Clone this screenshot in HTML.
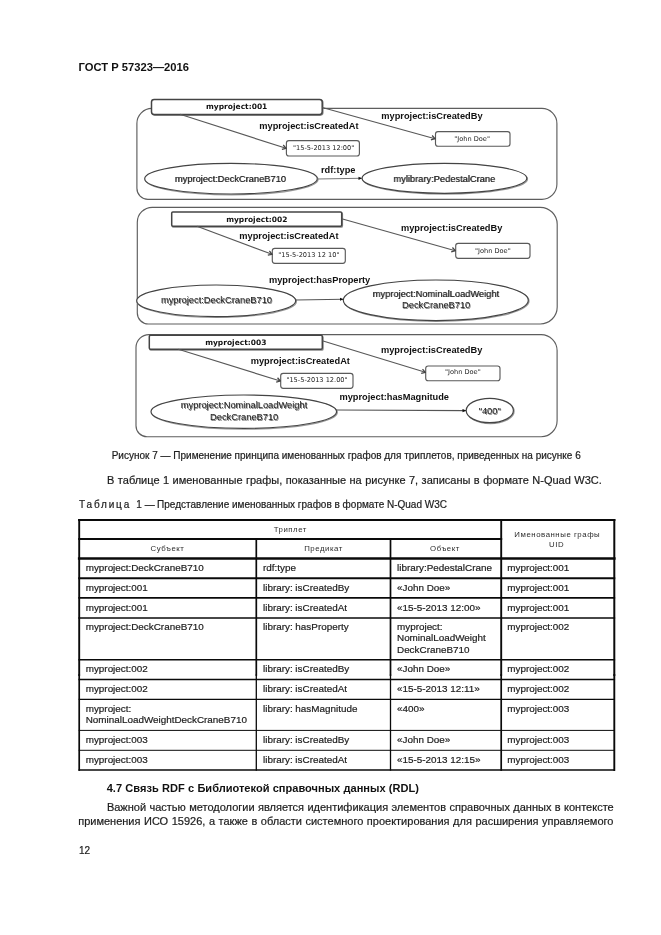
<!DOCTYPE html>
<html lang="ru">
<head>
<meta charset="utf-8">
<title>ГОСТ Р 57323—2016</title>
<style>
html,body{margin:0;padding:0;background:#fff;}
body{width:661px;height:935px;position:relative;overflow:hidden;will-change:transform;font-family:"Liberation Sans",sans-serif;color:#1c1c1c;}
.t{position:absolute;white-space:nowrap;line-height:12px;-webkit-text-stroke:0.2px #1c1c1c;}
#hdr,#h47,.h{-webkit-text-stroke:0;}
.c{font-size:9.9px;color:#1c1c1c;}
.h{font-size:7.8px;letter-spacing:0.55px;text-align:center;color:#2c2c2c;}
#dia,#grid{position:absolute;left:0;top:0;}
</style>
</head>
<body>
<div class="t" id="hdr" style="left:78.6px;top:61px;font-size:11.2px;color:#111;font-weight:bold;">ГОСТ Р 57323—2016</div>

<svg id="dia" width="661" height="445" viewBox="0 0 661 445">
<defs>
<marker id="ah" markerUnits="userSpaceOnUse" viewBox="0 0 6 6" refX="5.2" refY="3" markerWidth="6" markerHeight="6" orient="auto"><path d="M1.6,0.7 L5.2,3 L1.6,5.3" fill="none" stroke="#444" stroke-width="1.25"/></marker>
<marker id="af" markerUnits="userSpaceOnUse" viewBox="0 0 4 4" refX="3.4" refY="2" markerWidth="4" markerHeight="4" orient="auto"><path d="M0.1,0.35 L3.7,2 L0.1,3.65 Z" fill="#111"/></marker>
</defs>
<g fill="none" stroke="#444" stroke-width="1.2">
<!-- graph 1 -->
<path stroke="#5e5e5e" stroke-width="1.15" d="M151.9,108.4 H541.9 A15,15 0 0 1 556.9,123.4 V184.3 A15,15 0 0 1 541.9,199.3 H147.9 A11,11 0 0 1 136.9,188.3 V123.4 A15,15 0 0 1 151.9,108.4 Z"/>
<rect x="151.5" y="99.4" width="170.7" height="15" rx="2.6" ry="2.6" fill="none" stroke="#8a8a8a" stroke-width="1.4" transform="translate(0.7,0.8)"/>
<rect x="151.5" y="99.4" width="170.7" height="15" rx="2.6" ry="2.6" fill="#fff" stroke-width="1.5"/>
<rect x="286.4" y="140.6" width="73" height="15.4" rx="2.5" fill="#fff" stroke="#5a5a5a" stroke-width="1.15"/>
<rect x="435.5" y="131.6" width="74.5" height="14.6" rx="2.5" fill="#fff" stroke="#5a5a5a" stroke-width="1.15"/>
<line x1="180" y1="114.3" x2="286" y2="148.3" stroke="#585858" stroke-width="1.15" marker-end="url(#ah)"/>
<line x1="322.3" y1="107.5" x2="435" y2="138.7" stroke="#585858" stroke-width="1.15" marker-end="url(#ah)"/>
<ellipse cx="231" cy="178.7" rx="86.3" ry="15.3" fill="none" stroke="#9a9a9a" stroke-width="1.3" transform="translate(0.7,0.8)"/>
<ellipse cx="231" cy="178.7" rx="86.3" ry="15.3" fill="#fff"/>
<ellipse cx="444.45" cy="178.3" rx="82.35" ry="15" fill="none" stroke="#9a9a9a" stroke-width="1.3" transform="translate(0.7,0.8)"/>
<ellipse cx="444.45" cy="178.3" rx="82.35" ry="15" fill="#fff"/>
<line x1="317.3" y1="179" x2="361.8" y2="178.3" stroke="#777" stroke-width="1.1" marker-end="url(#af)"/>
<!-- graph 2 -->
<path stroke="#5e5e5e" stroke-width="1.15" d="M152.3,207.3 H540.2 A17,17 0 0 1 557.2,224.3 V307.0 A17,17 0 0 1 540.2,324.0 H148.3 A11,11 0 0 1 137.3,313.0 V222.3 A15,15 0 0 1 152.3,207.3 Z"/>
<rect x="171.7" y="211.9" width="170" height="14.4" rx="1.2" fill="none" stroke="#8a8a8a" stroke-width="1.4" transform="translate(0.7,0.8)"/>
<rect x="171.7" y="211.9" width="170" height="14.4" rx="1.2" fill="#fff" stroke-width="1.5"/>
<rect x="272.3" y="248.3" width="73" height="15" rx="2.5" fill="#fff" stroke="#5a5a5a" stroke-width="1.15"/>
<rect x="455.7" y="243.3" width="74.3" height="15" rx="2.5" fill="#fff" stroke="#5a5a5a" stroke-width="1.15"/>
<line x1="197" y1="226.3" x2="272" y2="254.3" stroke="#585858" stroke-width="1.15" marker-end="url(#ah)"/>
<line x1="341.7" y1="218.8" x2="455.3" y2="250.7" stroke="#585858" stroke-width="1.15" marker-end="url(#ah)"/>
<ellipse cx="216.2" cy="300.8" rx="79.5" ry="15.8" fill="none" stroke="#9a9a9a" stroke-width="1.3" transform="translate(0.7,0.8)"/>
<ellipse cx="216.2" cy="300.8" rx="79.5" ry="15.8" fill="#fff"/>
<ellipse cx="435.8" cy="300.3" rx="92.5" ry="20.3" fill="none" stroke="#9a9a9a" stroke-width="1.3" transform="translate(0.7,0.8)"/>
<ellipse cx="435.8" cy="300.3" rx="92.5" ry="20.3" fill="#fff"/>
<line x1="295.7" y1="300" x2="343.2" y2="299.2" stroke="#555" stroke-width="1.1" marker-end="url(#af)"/>
<!-- graph 3 -->
<path stroke="#5e5e5e" stroke-width="1.15" d="M149,334.6 H541.1 A16,16 0 0 1 557.1,350.6 V420.7 A16,16 0 0 1 541.1,436.7 H147 A11,11 0 0 1 136,425.7 V347.6 A13,13 0 0 1 149,334.6 Z"/>
<rect x="149.3" y="335.3" width="173" height="14" rx="1.2" fill="none" stroke="#8a8a8a" stroke-width="1.4" transform="translate(0.7,0.8)"/>
<rect x="149.3" y="335.3" width="173" height="14" rx="1.2" fill="#fff" stroke-width="1.5"/>
<rect x="280.7" y="373.3" width="72.3" height="15" rx="2.5" fill="#fff" stroke="#5a5a5a" stroke-width="1.15"/>
<rect x="425.7" y="366" width="74.3" height="14.7" rx="2.5" fill="#fff" stroke="#5a5a5a" stroke-width="1.15"/>
<line x1="178.3" y1="349.3" x2="280.3" y2="381" stroke="#585858" stroke-width="1.15" marker-end="url(#ah)"/>
<line x1="322.3" y1="340.7" x2="425.3" y2="372.3" stroke="#585858" stroke-width="1.15" marker-end="url(#ah)"/>
<ellipse cx="243.8" cy="411.7" rx="92.8" ry="16.7" fill="none" stroke="#9a9a9a" stroke-width="1.3" transform="translate(0.7,0.8)"/>
<ellipse cx="243.8" cy="411.7" rx="92.8" ry="16.7" fill="#fff"/>
<ellipse cx="489.8" cy="410.5" rx="23.6" ry="12.2" fill="none" stroke="#9a9a9a" stroke-width="1.3" transform="translate(0.7,0.8)"/>
<ellipse cx="489.8" cy="410.5" rx="23.6" ry="12.2" fill="#fff"/>
<line x1="336.7" y1="410" x2="465.8" y2="410.6" stroke="#555" stroke-width="1.1" marker-end="url(#af)"/>
</g>
<g font-family="'DejaVu Sans',sans-serif" font-weight="bold" font-size="7.5" fill="#111" text-anchor="middle">
<text x="236.7" y="109.3">myproject:001</text>
<text x="256.8" y="221.7">myproject:002</text>
<text x="235.8" y="345">myproject:003</text>
</g>
<g font-family="'DejaVu Sans',sans-serif" font-size="6.6" fill="#222">
<text x="293" y="150.3">"15-5-2013 12:00"</text>
<text x="454.3" y="140.6">"John Doe"</text>
<text x="278.3" y="256.7">"15-5-2013 12 10"</text>
<text x="475" y="252.7">"John Doe"</text>
<text x="286.4" y="382.3">"15-5-2013 12.00"</text>
<text x="445" y="374.3">"John Doe"</text>
</g>
<g font-family="'Liberation Sans',sans-serif" font-weight="bold" font-size="9.25" fill="#111">
<text x="259.3" y="128.7">myproject:isCreatedAt</text>
<text x="381.3" y="119.3">myproject:isCreatedBy</text>
<text x="321" y="173.3">rdf:type</text>
<text x="239.3" y="239">myproject:isCreatedAt</text>
<text x="401" y="230.7">myproject:isCreatedBy</text>
<text x="269" y="283.3">myproject:hasProperty</text>
<text x="250.7" y="364.3">myproject:isCreatedAt</text>
<text x="381" y="352.7">myproject:isCreatedBy</text>
<text x="339.5" y="400">myproject:hasMagnitude</text>
</g>
<g font-family="'Liberation Sans',sans-serif" font-size="9.3" fill="#222" text-anchor="middle" style="text-shadow:0.7px 0.7px 0.6px #777">
<text x="230.3" y="181.7">myproject:DeckCraneB710</text>
<text x="444.2" y="181.7">mylibrary:PedestalCrane</text>
<text x="216.5" y="303.3">myproject:DeckCraneB710</text>
<text x="435.8" y="296.7">myproject:NominalLoadWeight</text>
<text x="436.2" y="308">DeckCraneB710</text>
<text x="244" y="408.3">myproject:NominalLoadWeight</text>
<text x="244.2" y="420">DeckCraneB710</text>
<text x="489.7" y="414">"400"</text>
</g>
</svg>

<div class="t" id="cap" style="left:111.7px;top:450px;font-size:10px;">Рисунок 7 — Применение принципа именованных графов для триплетов, приведенных на рисунке 6</div>
<div class="t" id="p1" style="left:107.1px;top:474px;font-size:11px;word-spacing:0.37px;">В таблице 1 именованные графы, показанные на рисунке 7, записаны в формате N-Quad W3C.</div>
<div class="t" id="tc1" style="left:79.0px;top:499px;font-size:10px;letter-spacing:1.83px;">Таблица</div>
<div class="t" id="tc2" style="left:136.2px;top:499px;font-size:10px;">1</div>
<div class="t" id="tc3" style="left:144.7px;top:499px;font-size:10px;">—</div>
<div class="t" id="tc4" style="left:157.1px;top:499px;font-size:10px;">Представление именованных графов в формате N-Quad W3C</div>

<svg id="grid" width="661" height="935" viewBox="0 0 661 935"><g stroke="#0a0a0a" stroke-width="1.8" fill="none" stroke-linecap="square">
<line x1="79.2" y1="520" x2="614.3" y2="520" stroke-width="2.2"/>
<line x1="79.2" y1="539" x2="501.2" y2="539" stroke-width="2"/>
<line x1="79.2" y1="558.5" x2="614.3" y2="558.5" stroke-width="2.6"/>
<line x1="79.2" y1="578.3" x2="614.3" y2="578.3" stroke-width="1.9"/>
<line x1="79.2" y1="597.9" x2="614.3" y2="597.9" stroke-width="1.7"/>
<line x1="79.2" y1="618" x2="614.3" y2="618" stroke-width="1.7"/>
<line x1="79.2" y1="659.7" x2="614.3" y2="659.7" stroke-width="1.6"/>
<line x1="79.2" y1="679.5" x2="614.3" y2="679.5" stroke-width="1.5"/>
<line x1="79.2" y1="699.4" x2="614.3" y2="699.4" stroke-width="1.1"/>
<line x1="79.2" y1="730.4" x2="614.3" y2="730.4" stroke-width="1.0"/>
<line x1="79.2" y1="750.3" x2="614.3" y2="750.3" stroke-width="1.0"/>
<line x1="79.2" y1="770.0" x2="614.3" y2="770.0" stroke-width="1.3"/>
<line x1="79.2" y1="520" x2="79.2" y2="675" stroke-width="1.9"/>
<line x1="79.2" y1="675" x2="79.2" y2="770.0" stroke-width="1.7"/>
<line x1="256.3" y1="539" x2="256.3" y2="675" stroke-width="1.7"/>
<line x1="256.3" y1="675" x2="256.3" y2="770.0" stroke-width="1.3"/>
<line x1="390.5" y1="539" x2="390.5" y2="675" stroke-width="1.7"/>
<line x1="390.5" y1="675" x2="390.5" y2="770.0" stroke-width="1.3"/>
<line x1="501.2" y1="520" x2="501.2" y2="675" stroke-width="1.9"/>
<line x1="501.2" y1="675" x2="501.2" y2="770.0" stroke-width="1.7"/>
<line x1="614.3" y1="520" x2="614.3" y2="675" stroke-width="2.0"/>
<line x1="614.3" y1="675" x2="614.3" y2="770.0" stroke-width="1.9"/>
</g></svg>
<div class="t c" style="left:85.7px;top:562px">myproject:DeckCraneB710</div>
<div class="t c" style="left:263.0px;top:562px">rdf:type</div>
<div class="t c" style="left:397.0px;top:562px">library:PedestalCrane</div>
<div class="t c" style="left:507.3px;top:562px">myproject:001</div>
<div class="t c" style="left:85.7px;top:582px">myproject:001</div>
<div class="t c" style="left:263.0px;top:582px">library: isCreatedBy</div>
<div class="t c" style="left:397.0px;top:582px">«John Doe»</div>
<div class="t c" style="left:507.3px;top:582px">myproject:001</div>
<div class="t c" style="left:85.7px;top:602px">myproject:001</div>
<div class="t c" style="left:263.0px;top:602px">library: isCreatedAt</div>
<div class="t c" style="left:397.0px;top:602px">«15-5-2013 12:00»</div>
<div class="t c" style="left:507.3px;top:602px">myproject:001</div>
<div class="t c" style="left:85.7px;top:621px">myproject:DeckCraneB710</div>
<div class="t c" style="left:263.0px;top:621px">library: hasProperty</div>
<div class="t c" style="left:397.0px;top:621px">myproject:</div>
<div class="t c" style="left:507.3px;top:621px">myproject:002</div>
<div class="t c" style="left:397.0px;top:632px">NominalLoadWeight</div>
<div class="t c" style="left:397.0px;top:644px">DeckCraneB710</div>
<div class="t c" style="left:85.7px;top:663px">myproject:002</div>
<div class="t c" style="left:263.0px;top:663px">library: isCreatedBy</div>
<div class="t c" style="left:397.0px;top:663px">«John Doe»</div>
<div class="t c" style="left:507.3px;top:663px">myproject:002</div>
<div class="t c" style="left:85.7px;top:683px">myproject:002</div>
<div class="t c" style="left:263.0px;top:683px">library: isCreatedAt</div>
<div class="t c" style="left:397.0px;top:683px">«15-5-2013 12:11»</div>
<div class="t c" style="left:507.3px;top:683px">myproject:002</div>
<div class="t c" style="left:85.7px;top:703px">myproject:</div>
<div class="t c" style="left:263.0px;top:703px">library: hasMagnitude</div>
<div class="t c" style="left:397.0px;top:703px">«400»</div>
<div class="t c" style="left:507.3px;top:703px">myproject:003</div>
<div class="t c" style="left:85.7px;top:714px">NominalLoadWeightDeckCraneB710</div>
<div class="t c" style="left:85.7px;top:734px">myproject:003</div>
<div class="t c" style="left:263.0px;top:734px">library: isCreatedBy</div>
<div class="t c" style="left:397.0px;top:734px">«John Doe»</div>
<div class="t c" style="left:507.3px;top:734px">myproject:003</div>
<div class="t c" style="left:85.7px;top:754px">myproject:003</div>
<div class="t c" style="left:263.0px;top:754px">library: isCreatedAt</div>
<div class="t c" style="left:397.0px;top:754px">«15-5-2013 12:15»</div>
<div class="t c" style="left:507.3px;top:754px">myproject:003</div>
<div class="t h" style="left:190.3px;width:200px;top:524px">Триплет</div>
<div class="t h" style="left:67.5px;width:200px;top:543px">Субъект</div>
<div class="t h" style="left:223.6px;width:200px;top:543px">Предикат</div>
<div class="t h" style="left:345.0px;width:200px;top:543px">Объект</div>
<div class="t h" style="left:457.3px;width:200px;top:529px">Именованные графы</div>
<div class="t h" style="left:456.6px;width:200px;top:539px">UID</div>

<div class="t" id="h47" style="left:106.7px;top:782px;font-size:11.05px;color:#111;word-spacing:0.22px;font-weight:bold;">4.7 Связь RDF с Библиотекой справочных данных (RDL)</div>
<div class="t" id="p2a" style="left:106.9px;top:801px;font-size:11px;word-spacing:0.34px;">Важной частью методологии является идентификация элементов справочных данных в контексте</div>
<div class="t" id="p2b" style="left:78.2px;top:815px;font-size:11px;word-spacing:0.485px;">применения ИСО 15926, а также в области системного проектирования для расширения управляемого</div>
<div class="t" id="pg" style="left:79px;top:845px;font-size:10px;">12</div>
</body>
</html>
